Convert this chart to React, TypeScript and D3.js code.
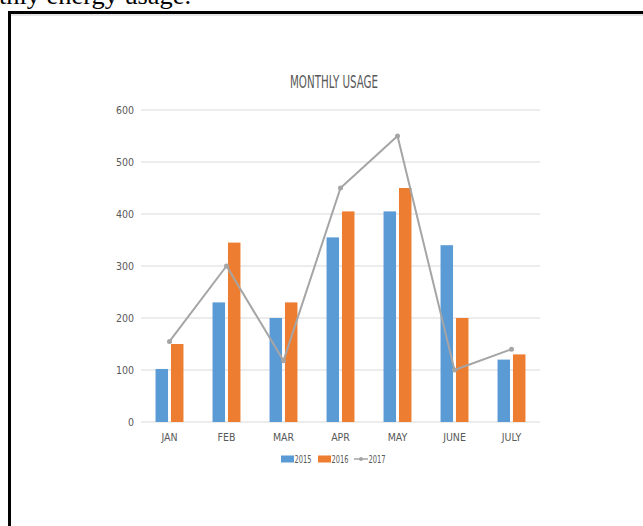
import * as d3 from 'd3'

const months = ['JAN', 'FEB', 'MAR', 'APR', 'MAY', 'JUNE', 'JULY']
const usage2015 = [102, 230, 200, 355, 405, 340, 120]
const usage2016 = [150, 345, 230, 405, 450, 200, 130]
const usage2017 = [155, 300, 118, 450, 550, 100, 140]
const yTicks = [0, 100, 200, 300, 400, 500, 600]
const seriesNames = ['2015', '2016', '2017']

const W = 643
const H = 526
const BLUE = '#5B9BD5'
const ORANGE = '#ED7D31'
const GRAY = '#A5A5A5'
const FONT = "'Liberation Sans Narrow', 'DejaVu Sans Condensed', 'Noto Sans', sans-serif"

export default function App() {
  const x = d3.scaleBand<string>().domain(months).range([141, 540])
  const y = d3.scaleLinear().domain([0, 600]).range([422, 110])

  const groupW = x.bandwidth() * 0.49
  const sub = d3
    .scaleBand<string>()
    .domain(['2015', '2016'])
    .range([0, groupW])
    .paddingInner(0.19)

  const bars = [usage2015, usage2016]
  const colors = [BLUE, ORANGE]

  const cx = (m: string) => (x(m) ?? 0) + x.bandwidth() / 2

  const line = d3
    .line<number>()
    .x((_, i) => cx(months[i]))
    .y(d => y(d))

  // legend layout
  const legendX = 281
  const legendY = 459

  return (
    <svg
      width={W}
      height={H}
      style={{ position: 'absolute', left: 0, top: 0, background: '#fff' }}
    >
      {/* caption above the box, cut by the page edge like in the screenshot */}
      <text
        x={-1}
        y={3.5}
        fontFamily="'Liberation Serif', 'DejaVu Serif', serif"
        fontSize={26}
        fill="#000"
        textLength={192}
        lengthAdjust="spacingAndGlyphs"
      >
        thly energy usage.
      </text>

      {/* framed box running off the page */}
      <line x1={11} x2={W} y1={15} y2={15} stroke="#ddd" strokeWidth={1.5} />
      <rect x={9.5} y={12.5} width={W + 20} height={H + 20} fill="none" stroke="#000" strokeWidth={3} />

      <text
        x={334}
        y={88}
        textAnchor="middle"
        fontFamily={FONT}
        fontSize={17}
        fill="#595959"
        textLength={88}
        lengthAdjust="spacingAndGlyphs"
      >
        MONTHLY USAGE
      </text>

      {/* gridlines and y labels */}
      {yTicks.map(t => (
        <g key={t}>
          <line x1={141} x2={540} y1={y(t)} y2={y(t)} stroke="#D9D9D9" strokeWidth={1} />
          <text
            x={134}
            y={y(t)}
            dy="0.35em"
            textAnchor="end"
            fontFamily={FONT}
            fontSize={10.5}
            fill="#595959"
          >
            {t}
          </text>
        </g>
      ))}

      {/* bars */}
      {bars.map((vals, s) =>
        vals.map((v, i) => {
          const m = months[i]
          const gx = cx(m) - groupW / 2
          return (
            <rect
              key={`${s}-${m}`}
              x={gx + (sub(seriesNames[s]) ?? 0)}
              y={y(v)}
              width={sub.bandwidth()}
              height={y(0) - y(v)}
              fill={colors[s]}
            />
          )
        })
      )}

      {/* 2017 line */}
      <path d={line(usage2017) ?? ''} fill="none" stroke={GRAY} strokeWidth={2} strokeLinejoin="round" />
      {usage2017.map((v, i) => (
        <circle key={months[i]} cx={cx(months[i])} cy={y(v)} r={2.5} fill={GRAY} />
      ))}

      {/* x labels */}
      {months.map(m => (
        <text
          key={m}
          x={cx(m)}
          y={437}
          dy="0.35em"
          textAnchor="middle"
          fontFamily={FONT}
          fontSize={10.5}
          fill="#595959"
        >
          {m}
        </text>
      ))}

      {/* legend */}
      <g fontFamily={FONT} fontSize={10.5} fill="#595959">
        <rect x={legendX} y={legendY - 3.5} width={13} height={7} fill={BLUE} />
        <text x={legendX + 13.5} y={legendY} dy="0.35em" textLength={17} lengthAdjust="spacingAndGlyphs">
          {seriesNames[0]}
        </text>
        <rect x={legendX + 37} y={legendY - 3.5} width={13} height={7} fill={ORANGE} />
        <text x={legendX + 50.5} y={legendY} dy="0.35em" textLength={17} lengthAdjust="spacingAndGlyphs">
          {seriesNames[1]}
        </text>
        <line x1={legendX + 73} x2={legendX + 87} y1={legendY} y2={legendY} stroke={GRAY} strokeWidth={1.5} />
        <circle cx={legendX + 80} cy={legendY} r={2} fill={GRAY} />
        <text x={legendX + 87.5} y={legendY} dy="0.35em" textLength={17} lengthAdjust="spacingAndGlyphs">
          {seriesNames[2]}
        </text>
      </g>
    </svg>
  )
}
